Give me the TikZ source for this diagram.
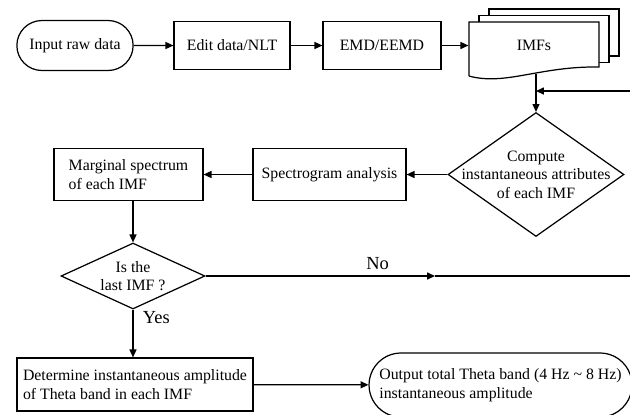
\documentclass[tikz,border=0pt]{standalone}
\usepackage{fontspec}
\setmainfont{Liberation Serif}
\usetikzlibrary{shapes.geometric,shapes.misc,arrows.meta}

\begin{document}
\begin{tikzpicture}[x=0.02cm, y=-0.02cm, line width=0.7pt,
  every node/.append style={font=\fontsize{9}{10.5}\selectfont},
  terminal/.style={draw, rounded rectangle, minimum height=1cm},
  process/.style={draw, rectangle, minimum height=0.96cm},
  decision/.style={draw, diamond},
  answer/.style={font=\fontsize{10.5}{12}\selectfont},
  arr/.style={-{Triangle[length=4.5pt,width=4pt]}}]
\useasboundingbox (0,0) rectangle (630,414);
% Top row
\node[terminal, minimum width=2.56cm] (input) at (75,45.5) {Input raw data};
\node[process, minimum width=2.32cm] (editdata) at (232,45.5) {Edit data/NLT};
\node[process, minimum width=2.36cm] (emd) at (382,45.5) {EMD/EEMD};
% Stacked IMF pages
\foreach \d in {2,1}
  \draw[fill=white] (469+10*\d,22-6.5*\d) rectangle (599+10*\d,69-6.5*\d);
\draw[fill=white] (469,76) -- (469,22) -- (599,22) -- (599,67) .. controls (540,66) and (505,86) .. (469,76);
\node[minimum width=2.6cm, minimum height=1cm] (imfs) at (534,45.5) {IMFs};
% Middle row
\node[decision, minimum width=3.52cm, minimum height=2.48cm,
  label={[align=center]center:Compute\\instantaneous attributes\\of each IMF}] (compute) at (536,174.5) {};
\node[process, minimum width=3.06cm, minimum height=1.04cm] (spectro) at (329.5,174.5) {Spectrogram analysis};
\node[process, align=left, minimum width=2.98cm, minimum height=1.04cm] (marginal) at (128.5,174.5) {Marginal spectrum\\of each IMF};
% Decision and output
\node[decision, minimum width=2.88cm, minimum height=1.32cm,
  label={[align=center]center:Is the\\last IMF ?}] (lastimf) at (133,276) {};
\node[process, align=left, minimum width=4.72cm, minimum height=1.06cm] (theta) at (135,384.5) {Determine instantaneous amplitude\\of Theta band in each IMF};
\node[terminal, align=left, minimum width=5.1cm, minimum height=1.28cm] (output) at (500.5,385) {Output total Theta band (4 Hz \textasciitilde{} 8 Hz)\\instantaneous amplitude};
\coordinate (imfsbot) at (536,74);
\coordinate (loopin) at (630,91);
\coordinate (nomid) at (435,276);
\coordinate (noend) at (630,276);
% Connectors
\draw[arr] (input) -- (editdata);
\draw[arr] (editdata) -- (emd);
\draw[arr] (emd) -- (imfs);
\draw[arr] (imfsbot) -- (compute.north);
\draw[arr] (loopin) -- (loopin -| compute.north);
\draw[arr] (compute) -- (spectro);
\draw[arr] (spectro) -- (marginal);
\draw[arr] (lastimf.north |- marginal.south) -- (lastimf.north);
\draw[arr] (lastimf.east) -- node[answer, pos=0.75, above] (no) {No} (nomid);
\draw (nomid) -- (noend);
\draw[arr] (lastimf.south) -- node[answer, pos=0.16, right, xshift=2pt] (yes) {Yes} (lastimf.south |- theta.north);
\draw[arr] (theta) -- (output);
\end{tikzpicture}
\end{document}
